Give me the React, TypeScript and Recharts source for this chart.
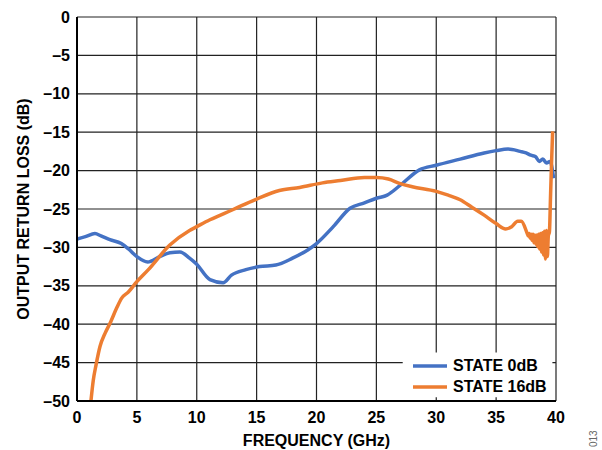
import React from 'react'
import { LineChart, Line, XAxis, YAxis, CartesianGrid, Legend, ReferenceArea, Label } from 'recharts'

const FONT = '"Liberation Sans", Arial, Helvetica, sans-serif'
const BLUE = '#4472C4'
const ORANGE = '#ED7D31'

const freqTicks = [0, 5, 10, 15, 20, 25, 30, 35, 40]
const lossTicks = [0, -5, -10, -15, -20, -25, -30, -35, -40, -45, -50]

// STATE 0dB
const state0Freq = [0, 0.7, 1.5, 2, 2.75, 3.7, 4.3, 5, 5.9, 6.9, 7.75, 8.6, 9.4, 10, 11.1, 12.2, 12.9, 14.1, 15.25, 16.6, 18, 19.3, 20, 21.4, 22.8, 24, 25, 25.9, 27, 28.6, 30, 32, 34, 35, 36, 37, 37.5, 37.9, 38.3, 38.6, 38.9, 39.2, 39.5, 39.8]
const state0Loss = [-28.9, -28.6, -28.2, -28.5, -29.0, -29.5, -30.2, -31.2, -31.9, -31.2, -30.7, -30.6, -31.4, -32.2, -34.2, -34.6, -33.6, -32.9, -32.5, -32.3, -31.4, -30.3, -29.5, -27.3, -24.9, -24.2, -23.6, -23.2, -21.9, -19.9, -19.3, -18.5, -17.7, -17.4, -17.2, -17.5, -17.7, -18.0, -18.2, -18.8, -18.5, -19.0, -18.8, -21.0]

// STATE 16dB (the ripple near 38-39 GHz is drawn as a dense zigzag)
const state16Freq = [1.17, 1.36, 1.59, 1.92, 2.34, 2.81, 3.31, 3.73, 4.29, 4.98, 5.96, 7.75, 9.4, 10, 11.1, 13, 15, 16.9, 18.6, 20.5, 22, 24, 25, 26, 27, 28, 30, 31, 32, 33, 34, 35, 35.8, 36.3, 36.8, 37.1, 37.6,
  37.68, 37.76, 37.84, 37.92, 38.0, 38.08, 38.16, 38.24, 38.32, 38.4, 38.48, 38.56, 38.64, 38.72, 38.8, 38.88, 38.96, 39.04, 39.12, 39.2, 39.28, 39.36, 39.45, 39.55, 39.65, 39.72]
const state16Loss = [-49.9, -47.3, -45.3, -42.9, -41.2, -39.7, -37.9, -36.6, -35.8, -34.5, -32.9, -29.7, -27.8, -27.3, -26.4, -25.1, -23.7, -22.6, -22.2, -21.6, -21.3, -20.9, -20.9, -21.1, -21.7, -22.1, -22.7, -23.2, -23.8, -24.8, -25.8, -26.9, -27.6, -27.3, -26.6, -26.6, -28.2,
  -28.5, -28.2, -28.8, -28.3, -29.1, -28.3, -29.4, -28.4, -29.6, -28.4, -29.9, -28.3, -30.2, -28.2, -30.6, -28.1, -31.0, -27.9, -31.5, -27.8, -31.2, -28.5, -28.0, -23.0, -18.0, -14.9]

const legendNames = ['STATE 0dB', 'STATE 16dB']
const legendColors = [BLUE, ORANGE]

const toRows = (f: number[], l: number[]) => f.map((x, i) => ({ freq: x, loss: l[i] }))
const state0 = toRows(state0Freq, state0Loss)
const state16 = toRows(state16Freq, state16Loss)

const fmtLoss = (v: number) => (v < 0 ? '\u2013' + Math.abs(v) : String(v))

const tickStyle = { fontFamily: FONT, fontWeight: 700, fontSize: 16, fill: '#000' }

function LegendBox() {
  return (
    <div style={{ fontFamily: FONT, fontWeight: 700, fontSize: 16, color: '#000' }}>
      {legendNames.map((n, i) => (
        <div key={n} style={{ display: 'flex', alignItems: 'center', height: 21 }}>
          <svg width={36} height={6} style={{ marginRight: 5 }}>
            <line x1={1} y1={3} x2={35} y2={3} stroke={legendColors[i]} strokeWidth={3.5} />
          </svg>
          <span>{n}</span>
        </div>
      ))}
    </div>
  )
}

export default function App() {
  return (
    <div style={{ position: 'absolute', left: 0, top: 0, width: 602, height: 450, background: '#fff' }}>
      <LineChart width={602} height={450} margin={{ top: 17, right: 46, bottom: 1, left: 0 }}>
        <CartesianGrid stroke="#222" strokeWidth={1.2} horizontalValues={lossTicks} verticalValues={freqTicks} />
        <ReferenceArea x1={27.2} x2={39.7} y1={-49.5} y2={-43.7} fill="#fff" fillOpacity={1} stroke="none" ifOverflow="visible" />
        <XAxis
          dataKey="freq"
          type="number"
          domain={[0, 40]}
          ticks={freqTicks}
          tickLine={false}
          tickSize={6}
          tickMargin={5}
          height={48}
          axisLine={{ stroke: '#000', strokeWidth: 2 }}
          tick={tickStyle}
          allowDataOverflow
        >
          <Label
            content={() => (
              <text x={316.5} y={446} textAnchor="middle" style={tickStyle}>FREQUENCY (GHz)</text>
            )}
          />
        </XAxis>
        <XAxis xAxisId="top" orientation="top" type="number" domain={[0, 40]} height={0} tick={false} tickLine={false} axisLine={{ stroke: '#000', strokeWidth: 2 }} />
        <YAxis
          type="number"
          domain={[-50, 0]}
          ticks={lossTicks}
          tickFormatter={fmtLoss}
          tickLine={false}
          tickSize={6}
          tickMargin={1}
          width={77}
          axisLine={{ stroke: '#000', strokeWidth: 2 }}
          tick={tickStyle}
          allowDataOverflow
        >
          <Label
            content={() => (
              <text x={23} y={209} textAnchor="middle" dominantBaseline="central" transform="rotate(-90 23 209)" style={tickStyle}>
                OUTPUT RETURN LOSS (dB)
              </text>
            )}
          />
        </YAxis>
        <YAxis yAxisId="right" orientation="right" type="number" domain={[-50, 0]} width={0} tick={false} tickLine={false} axisLine={{ stroke: '#000', strokeWidth: 2 }} />
        <Line data={state0} dataKey="loss" name={legendNames[0]} type="monotone" stroke={BLUE} strokeWidth={3.5} dot={false} isAnimationActive={false} />
        <Line data={state16} dataKey="loss" name={legendNames[1]} type="monotone" stroke={ORANGE} strokeWidth={3.5} dot={false} isAnimationActive={false} />
        <Legend
          layout="vertical"
          align="center"
          verticalAlign="middle"
          content={() => <LegendBox />}
          wrapperStyle={{ position: 'absolute', left: 412, top: 355, width: 150, height: 44 }}
        />
        <text x={597} y={447} transform="rotate(-90 597 447)" style={{ fontFamily: FONT, fontSize: 10, fill: '#666' }}>013</text>
      </LineChart>
    </div>
  )
}
